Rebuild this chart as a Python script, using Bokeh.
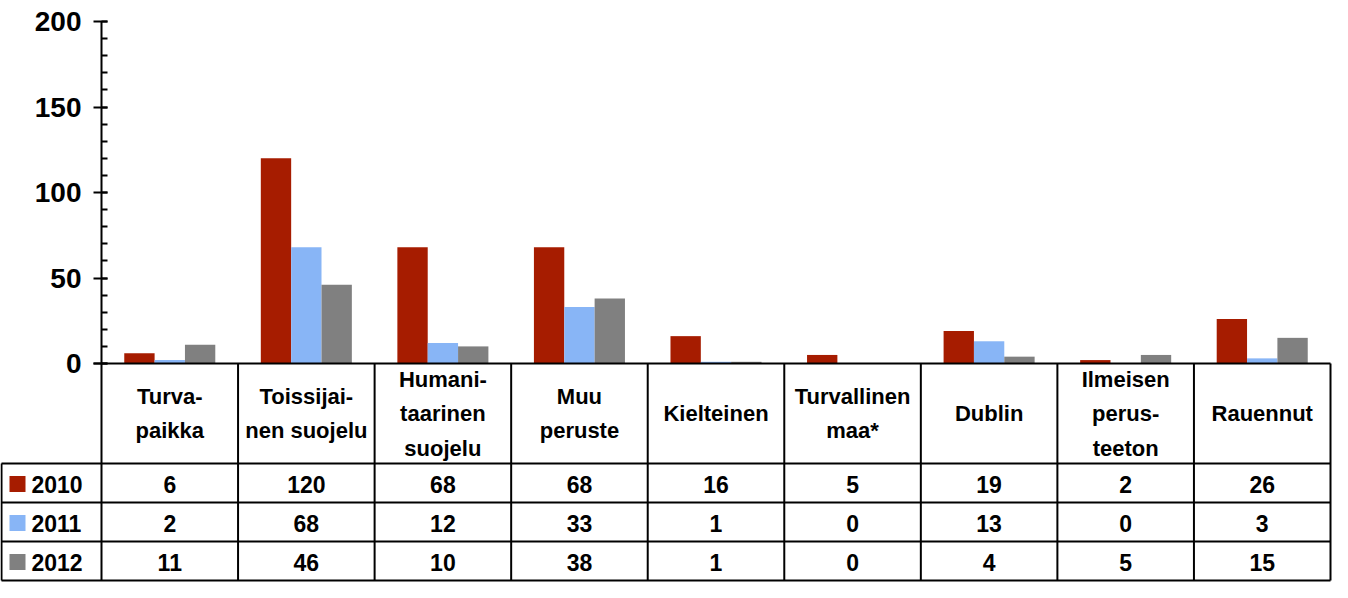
from bokeh.plotting import figure
from bokeh.models import Range1d, SingleIntervalTicker, ColumnDataSource
from bokeh.embed import file_html
from bokeh.resources import INLINE
from bokeh.core.properties import value

# ---- data ----
categories = ["Turva-\npaikka", "Toissijai-\nnen suojelu", "Humani-\ntaarinen\nsuojelu",
              "Muu\nperuste", "Kielteinen", "Turvallinen\nmaa*", "Dublin",
              "Ilmeisen\nperus-\nteeton", "Rauennut"]
years = ["2010", "2011", "2012"]
v2010 = [6, 120, 68, 68, 16, 5, 19, 2, 26]
v2011 = [2, 68, 12, 33, 1, 0, 13, 0, 3]
v2012 = [11, 46, 10, 38, 1, 0, 4, 5, 15]
series = [v2010, v2011, v2012]
colors = ["#A61C00", "#88B5F6", "#808080"]
y_ticks_interval = 50
y_max = 200

# ---- layout (pixels inside the figure) ----
W, H = 1332, 582
AX_X = 101            # y-axis position
RIGHT = 1330
N = len(categories)
CAT_W = (RIGHT - AX_X) / N
TOP_Y = 21
ZERO_Y = 363
PX_PER = (ZERO_Y - TOP_Y) / y_max
HEAD_BOT = 463
ROW_BOUNDS = [463, 502, 541, 580]
FONT = value("Liberation Sans")

x_start = -AX_X / CAT_W
x_end = (W - AX_X) / CAT_W
y_start = -(H - ZERO_Y) / PX_PER
y_end = ZERO_Y / PX_PER

p = figure(width=W, height=H, output_backend="svg", toolbar_location=None,
           x_range=Range1d(x_start, x_end), y_range=Range1d(y_start, y_end),
           min_border=0, min_border_left=0, min_border_right=0,
           min_border_top=0, min_border_bottom=0)
p.extra_x_ranges = {"px": Range1d(0, W)}
p.extra_y_ranges = {"px": Range1d(-H, 0)}
p.xgrid.visible = False
p.ygrid.visible = False
p.outline_line_color = None
p.xaxis.visible = False

# y axis inside frame at x=0
ax = p.yaxis[0]
ax.fixed_location = 0
ax.bounds = (0, y_max)
ax.ticker = SingleIntervalTicker(interval=y_ticks_interval, num_minor_ticks=5)
ax.axis_line_width = 2
ax.axis_line_color = "black"
ax.major_tick_line_width = 2
ax.major_tick_line_color = "black"
ax.minor_tick_line_width = 2
ax.minor_tick_line_color = "black"
ax.major_tick_out = 8
ax.major_tick_in = 6
ax.minor_tick_out = 0
ax.minor_tick_in = 6
ax.major_label_text_font = "Liberation Sans"
ax.major_label_text_font_style = "bold"
ax.major_label_text_font_size = "28px"
ax.major_label_text_color = "black"
ax.major_label_standoff = 12

# bars
bar_w = 1 / 4.5
for k, (yr, vals, col) in enumerate(zip(years, series, colors)):
    xs = [i + 0.5 + (k - 1) * bar_w for i in range(N)]
    src = ColumnDataSource(dict(x=xs, top=vals))
    p.vbar(x="x", top="top", bottom=0, width=bar_w, source=src,
           fill_color=col, line_color=None)

def py(v):
    return -v

# top line of table (zero line)
p.segment(x0=[AX_X - 8], y0=[py(ZERO_Y)], x1=[RIGHT], y1=[py(ZERO_Y)],
          x_range_name="px", y_range_name="px", line_color="black", line_width=2)
# row lines
for yb in ROW_BOUNDS:
    p.segment(x0=[1], y0=[py(yb)], x1=[RIGHT], y1=[py(yb)],
              x_range_name="px", y_range_name="px", line_color="black", line_width=2)
# vertical lines at category boundaries
bx = list(range(N + 1))
p.segment(x0=bx, y0=[py(ZERO_Y)] * len(bx), x1=bx, y1=[py(ROW_BOUNDS[-1])] * len(bx),
          y_range_name="px", line_color="black", line_width=2)
# legend column left border
p.segment(x0=[1], y0=[py(HEAD_BOT)], x1=[1], y1=[py(ROW_BOUNDS[-1])],
          x_range_name="px", y_range_name="px", line_color="black", line_width=2)

# header text
p.text(x=[i + 0.5 for i in range(N)], y=[py((ZERO_Y + HEAD_BOT) / 2)] * N, text=categories,
       y_range_name="px", text_align="center", text_baseline="middle",
       text_font=FONT, text_font_style="bold", text_font_size="22px",
       text_color="black", text_line_height=1.38)

# values and legend keys
for k, (yr, vals, col) in enumerate(zip(years, series, colors)):
    cy = (ROW_BOUNDS[k] + ROW_BOUNDS[k + 1]) / 2 + 1
    p.text(x=[i + 0.5 for i in range(N)], y=[py(cy)] * N, text=[str(v) for v in vals],
           y_range_name="px", text_align="center", text_baseline="middle",
           text_font=FONT, text_font_style="bold", text_font_size="23px", text_color="black")
    p.scatter(x=[17], y=[py(cy)], marker="square", size=16, fill_color=col, line_color=None,
              x_range_name="px", y_range_name="px")
    p.text(x=[31], y=[py(cy)], text=[yr], x_range_name="px", y_range_name="px",
           text_align="left", text_baseline="middle",
           text_font=FONT, text_font_style="bold", text_font_size="23px", text_color="black")

open("out.html", "w").write(file_html(p, INLINE))
